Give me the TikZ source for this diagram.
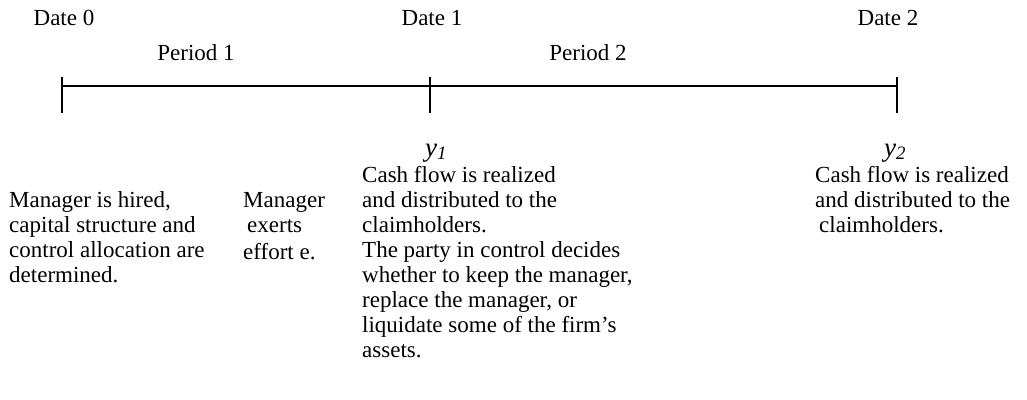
\documentclass[tikz,border=0pt]{standalone}
\usepackage{fontspec}
\setmainfont{Liberation Serif}
\begin{document}
\begin{tikzpicture}[x=1pt,y=-1pt,
  txt/.style={anchor=base west,inner sep=0pt,align=left,font=\fontsize{23}{25}\selectfont},
  lbl/.style={anchor=base,inner sep=0pt,font=\fontsize{23}{25}\selectfont},
  cf/.style={anchor=base,inner sep=0pt,font=\fontsize{27}{27}\selectfont\itshape},
  axis/.style={line width=2.5pt}]
\useasboundingbox (0,0) rectangle (1027,399);
% timeline
\coordinate (t0) at (62,86);
\coordinate (t1) at (430,86);
\coordinate (t2) at (897,86);
\coordinate (t0a) at (62,77);  \coordinate (t0b) at (62,113);
\coordinate (t1a) at (430,77); \coordinate (t1b) at (430,113);
\coordinate (t2a) at (897,77); \coordinate (t2b) at (897,113);
\draw[axis] (t0) -- (t1) -- (t2);
\draw[axis] (t0a) -- (t0b);
\draw[axis] (t1a) -- (t1b);
\draw[axis] (t2a) -- (t2b);
% labels
\node[lbl] (d0) at (64,25.5) {Date 0};
\node[lbl] (d1) at (432,25.5) {Date 1};
\node[lbl] (d2) at (888,25.5) {Date 2};
\node[lbl] (p1) at (196,60.5) {Period 1};
\node[lbl] (p2) at (588,60.5) {Period 2};
\node[cf] (y1) at (436,156) {y\textsubscript{1}};
\node[cf] (y2) at (895,156) {y\textsubscript{2}};
% texts (anchor = baseline of last line)
\node[txt] (a) at (9,282) {Manager is hired,\\capital structure and\\control allocation are\\determined.};
\node[txt] (b) at (243,259) {Manager\\\hspace{4pt}exerts\\[2pt]effort e.};
\node[txt] (c) at (362,357) {Cash flow is realized\\and distributed to the\\claimholders.\\The party in control decides\\whether to keep the manager,\\replace the manager, or\\liquidate some of the firm’s\\assets.};
\node[txt] (d) at (815,232) {Cash flow is realized\\and distributed to the\\\hspace{4pt}claimholders.};
\end{tikzpicture}
\end{document}
